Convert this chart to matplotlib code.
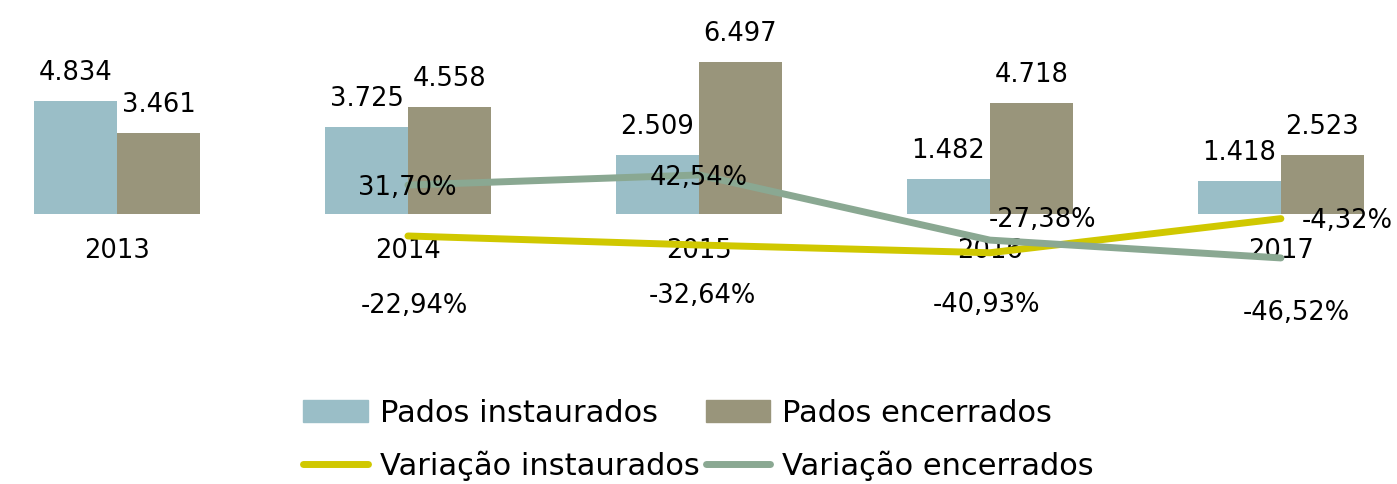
import matplotlib
matplotlib.use('Agg')
import numpy as np
import matplotlib.pyplot as plt
from matplotlib.patches import Patch
from matplotlib.lines import Line2D

years = ['2013', '2014', '2015', '2016', '2017']
instaurados = [4834, 3725, 2509, 1482, 1418]
encerrados = [3461, 4558, 6497, 4718, 2523]
var_years = ['2014', '2015', '2016', '2017']
var_instaurados = [-22.94, -32.64, -40.93, -4.32]
var_encerrados = [31.70, 42.54, -27.38, -46.52]

# label offsets in pixels (dx, dy), relative to each line point
off_inst = [(6, -77), (3, -58), (-3, -59), (66, -9)]
off_enc = [(-1, -10), (0, -10), (53, 13), (15, -62)]

c_inst = '#9ABEC7'
c_enc = '#99957B'
c_vinst = '#D0C800'
c_venc = '#8AA892'

plt.rcParams['font.family'] = ['DejaVu Sans']

fig = plt.figure(figsize=(13.97, 4.84), dpi=100)
ax = fig.add_axes([0, 0, 1, 1])
ax2 = ax.twinx()
ax.spines['bottom'].set_position(('data', 0))

x = np.arange(len(years))
w = 0.285
ax.bar(x - w / 2, instaurados, w, color=c_inst)
ax.bar(x + w / 2, encerrados, w, color=c_enc)

for xi, v in zip(x - w / 2, instaurados):
    ax.annotate(f'{v:,}'.replace(',', '.'), (xi, v), xytext=(0, 21),
                textcoords='offset pixels', ha='center', va='baseline', fontsize=18.5)
for xi, v in zip(x + w / 2, encerrados):
    ax.annotate(f'{v:,}'.replace(',', '.'), (xi, v), xytext=(0, 21),
                textcoords='offset pixels', ha='center', va='baseline', fontsize=18.5)

xv = np.array([years.index(y) for y in var_years])
ax2.plot(xv, var_instaurados, color=c_vinst, lw=5, solid_capstyle='round')
ax2.plot(xv, var_encerrados, color=c_venc, lw=5, solid_capstyle='round')

for xi, p, off in zip(xv, var_instaurados, off_inst):
    ax2.annotate(f'{p:.2f}'.replace('.', ',') + '%', (xi, p), xytext=off,
                 textcoords='offset pixels', ha='center', va='baseline', fontsize=18.5)
for xi, p, off in zip(xv, var_encerrados, off_enc):
    ax2.annotate(f'{p:.2f}'.replace('.', ',') + '%', (xi, p), xytext=off,
                 textcoords='offset pixels', ha='center', va='baseline', fontsize=18.5)

ax.set_xlim(-0.402, 4.399)
ax.set_ylim(-11519, 9130)
ax2.set_ylim(-289.1, 230.3)

ax.set_xticks(x)
ax.set_xticklabels(years, fontsize=18.5)
ax.tick_params(axis='x', length=0, pad=17)
ax.set_yticks([])
ax2.set_yticks([])
for a in (ax, ax2):
    for s in a.spines.values():
        s.set_color('none')

handles = [Patch(color=c_inst), Line2D([], [], color=c_vinst, lw=5, solid_capstyle='round'),
           Patch(color=c_enc), Line2D([], [], color=c_venc, lw=5, solid_capstyle='round')]
labels = ['Pados instaurados', 'Variação instaurados', 'Pados encerrados', 'Variação encerrados']
fig.legend(handles, labels, loc='center', bbox_to_anchor=(0.5, 0.091), ncol=2,
           frameon=False, fontsize=22, handlelength=2.1, handletextpad=0.4,
           columnspacing=0.2, labelspacing=0.75)

fig.savefig('out.png', dpi=100)
